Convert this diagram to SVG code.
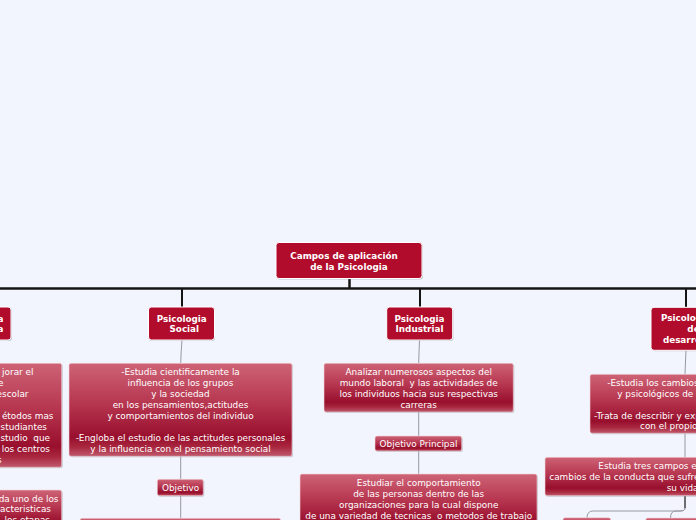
<svg xmlns="http://www.w3.org/2000/svg" width="696" height="520" viewBox="0 0 696 520">
<defs>
<linearGradient id="g" x1="0" y1="0" x2="0" y2="1">
<stop offset="0" stop-color="#ce6376"/>
<stop offset="0.45" stop-color="#b5344e"/>
<stop offset="0.8" stop-color="#980f2d"/>
<stop offset="0.9" stop-color="#a9273f"/>
<stop offset="1" stop-color="#c05a6e"/>
</linearGradient>
<style>
.main{fill:#b10c2b;stroke:#ffffff;stroke-width:1}
.sub{fill:url(#g);stroke:#f1d6dc;stroke-width:0.6}
.sh{fill:#8e8e9c;opacity:0.45}
.bt{font-family:"DejaVu Sans",Verdana,sans-serif;font-size:8.8px;font-weight:bold;fill:#ffffff;text-anchor:middle}
.t{font-family:"DejaVu Sans",Verdana,sans-serif;font-size:8.9px;fill:#ffffff;text-anchor:middle;white-space:pre}
.te{font-family:"DejaVu Sans",Verdana,sans-serif;font-size:8.9px;fill:#ffffff;text-anchor:end;white-space:pre}
.ts{font-family:"DejaVu Sans",Verdana,sans-serif;font-size:8.9px;fill:#ffffff;text-anchor:start;white-space:pre}
.k{stroke:#141414;fill:none}
.c{stroke:#9898a4;stroke-width:1;fill:none}
</style>
</defs>
<rect width="696" height="520" fill="#f2f5fd"/>

<g id="connectors">
<line class="k" x1="349.5" y1="279" x2="349.5" y2="288" stroke-width="2.5"/>
<line class="k" x1="0" y1="288.5" x2="696" y2="288.5" stroke-width="2.5"/>
<line class="k" x1="182" y1="288" x2="182" y2="307" stroke-width="2"/>
<line class="k" x1="420" y1="288" x2="420" y2="307" stroke-width="2"/>
<line class="k" x1="686" y1="288" x2="686" y2="307" stroke-width="2"/>
<path class="c" d="M182,340 Q181,352 180.7,363"/>
<path class="c" d="M180.7,456 V479"/>
<path class="c" d="M180.7,496 V518"/>
<path class="c" d="M419.5,340 Q419,352 418.7,363"/>
<path class="c" d="M418.7,412 V436"/>
<path class="c" d="M418.7,451 V474"/>
<path class="c" d="M686,350 Q685.5,362 685,374"/>
<path class="c" d="M685,433 V457"/>
<path class="k" d="M685,496 V508" stroke-width="1.2"/>
<path class="c" d="M685,508 Q685,511 680,511 H593 Q587,511 587,518"/>
<path class="c" d="M685,508 Q685,511 680,511 H676 Q670.5,511 670.5,518"/>
</g>

<g id="root">
<rect class="sh" x="277" y="243.5" width="146" height="36" rx="3"/>
<rect class="main" x="276" y="242.5" width="146" height="36" rx="3"/>
<text class="bt" x="344" y="259.3">Campos de aplicación</text>
<text class="bt" x="349" y="270">de la Psicologia</text>
</g>

<g id="n-educativa">
<rect class="sh" x="-60" y="308" width="72" height="33" rx="3"/>
<rect class="main" x="-61" y="307" width="72" height="33" rx="3"/>
<text class="bt" x="3.5" y="321.5" style="text-anchor:end">Psicologia</text>
<text class="bt" x="3.5" y="332" style="text-anchor:end">Educativa</text>
</g>

<g id="n-social">
<rect class="sh" x="149" y="308" width="66" height="33" rx="3"/>
<rect class="main" x="148.5" y="307" width="66" height="33" rx="3"/>
<text class="bt" x="181.7" y="321.5">Psicologia</text>
<text class="bt" x="184.3" y="332">Social</text>
</g>

<g id="n-industrial">
<rect class="sh" x="387.5" y="308" width="66" height="33" rx="3"/>
<rect class="main" x="386.7" y="307" width="66" height="33" rx="3"/>
<text class="bt" x="419.5" y="321.5">Psicologia</text>
<text class="bt" x="419.5" y="332">Industrial</text>
</g>

<g id="n-desarrollo">
<rect class="sh" x="652" y="308.3" width="78" height="43" rx="3"/>
<rect class="main" x="651" y="307.3" width="78" height="43" rx="3"/>
<text class="bt" x="686" y="321.3">Psicologia</text>
<text class="bt" x="695" y="332">del</text>
<text class="bt" x="688" y="342.6">desarrollo</text>
</g>

<g id="d-educativa-1">
<rect class="sh" x="-170" y="364.3" width="232.7" height="104" rx="2"/>
<rect class="sub" x="-171" y="363.3" width="232.7" height="104" rx="2"/>
<text class="te" x="33.5" y="375">jorar el</text>
<text class="te" x="3.5" y="386">e</text>
<text class="te" x="28.5" y="397">escolar</text>
<text class="te" x="53.5" y="419">étodos mas</text>
<text class="te" x="47" y="430">estudiantes</text>
<text class="te" x="50" y="441" xml:space="preserve">studio  que</text>
<text class="te" x="50" y="452">los centros</text>
<text class="te" x="1.5" y="462.5">s</text>
</g>

<g id="d-educativa-2">
<rect class="sh" x="-170" y="491" width="232.7" height="40" rx="2"/>
<rect class="sub" x="-171" y="490" width="232.7" height="40" rx="2"/>
<text class="te" x="58.5" y="501.7">da uno de los</text>
<text class="te" x="51" y="512.3">acteristicas</text>
<text class="te" x="50" y="523">los etapas</text>
</g>

<g id="d-social">
<rect class="sh" x="70" y="364.3" width="223" height="93" rx="2"/>
<rect class="sub" x="69" y="363.3" width="223" height="93" rx="2"/>
<text class="t" x="180.5" y="375">-Estudia cientificamente la</text>
<text class="t" x="180.5" y="386">influencia de los grupos</text>
<text class="t" x="180.5" y="397">y la sociedad</text>
<text class="t" x="180.5" y="408">en los pensamientos,actitudes</text>
<text class="t" x="180.5" y="418.7">y comportamientos del individuo</text>
<text class="t" x="180.5" y="441.3">-Engloba el estudio de las actitudes personales</text>
<text class="t" x="180.5" y="452">y la influencia con el pensamiento social</text>
</g>

<g id="o-social">
<rect class="sh" x="158.3" y="480.3" width="46" height="16.4" rx="2"/>
<rect class="sub" x="157.3" y="479.3" width="46" height="16.4" rx="2"/>
<text class="t" x="180.5" y="490.5">Objetivo</text>
</g>

<g id="d-social-2">
<rect class="sub" x="80" y="518.3" width="200.7" height="20" rx="2"/>
</g>

<g id="d-industrial">
<rect class="sh" x="325" y="364.3" width="189.3" height="48.7" rx="2"/>
<rect class="sub" x="324" y="363.3" width="189.3" height="48.7" rx="2"/>
<text class="t" x="418.7" y="375">Analizar numerosos aspectos del</text>
<text class="t" x="418.7" y="386" xml:space="preserve">mundo laboral  y las actividades de</text>
<text class="t" x="418.7" y="397">los individuos hacia sus respectivas</text>
<text class="t" x="418.7" y="407.7">carreras</text>
</g>

<g id="o-industrial">
<rect class="sh" x="376" y="437" width="86.7" height="15" rx="2"/>
<rect class="sub" x="375" y="436" width="86.7" height="15" rx="2"/>
<text class="t" x="418.5" y="447">Objetivo Principal</text>
</g>

<g id="d-industrial-2">
<rect class="sh" x="301" y="475" width="237" height="60" rx="2"/>
<rect class="sub" x="300" y="474" width="237" height="60" rx="2"/>
<text class="t" x="418.7" y="486.3">Estudiar el comportamiento</text>
<text class="t" x="418.7" y="497">de las personas dentro de las</text>
<text class="t" x="418.7" y="508">organizaciones para la cual dispone</text>
<text class="t" x="418.7" y="518.7" xml:space="preserve">de una variedad de tecnicas  o metodos de trabajo</text>
</g>

<g id="d-desarrollo">
<rect class="sh" x="591" y="375.3" width="200" height="59" rx="2"/>
<rect class="sub" x="590" y="374.3" width="200" height="59" rx="2"/>
<text class="ts" x="607.3" y="386">-Estudia los cambios</text>
<text class="ts" x="617.3" y="396.7">y psicológicos de</text>
<text class="ts" x="594" y="418.7">-Trata de describir y explicar</text>
<text class="ts" x="640" y="429.3">con el propio</text>
</g>

<g id="d-desarrollo-2">
<rect class="sh" x="546" y="458.3" width="250" height="38.4" rx="2"/>
<rect class="sub" x="545" y="457.3" width="250" height="38.4" rx="2"/>
<text class="ts" x="598.3" y="469">Estudia tres campos en</text>
<text class="ts" x="549.3" y="480">cambios de la conducta que sufre</text>
<text class="ts" x="666.7" y="490.7">su vida</text>
</g>

<g id="c-desarrollo-1">
<rect class="sub" x="563" y="517.7" width="47.7" height="20" rx="2"/>
</g>
<g id="c-desarrollo-2">
<rect class="sub" x="645.7" y="518" width="60" height="20" rx="2"/>
</g>
</svg>
